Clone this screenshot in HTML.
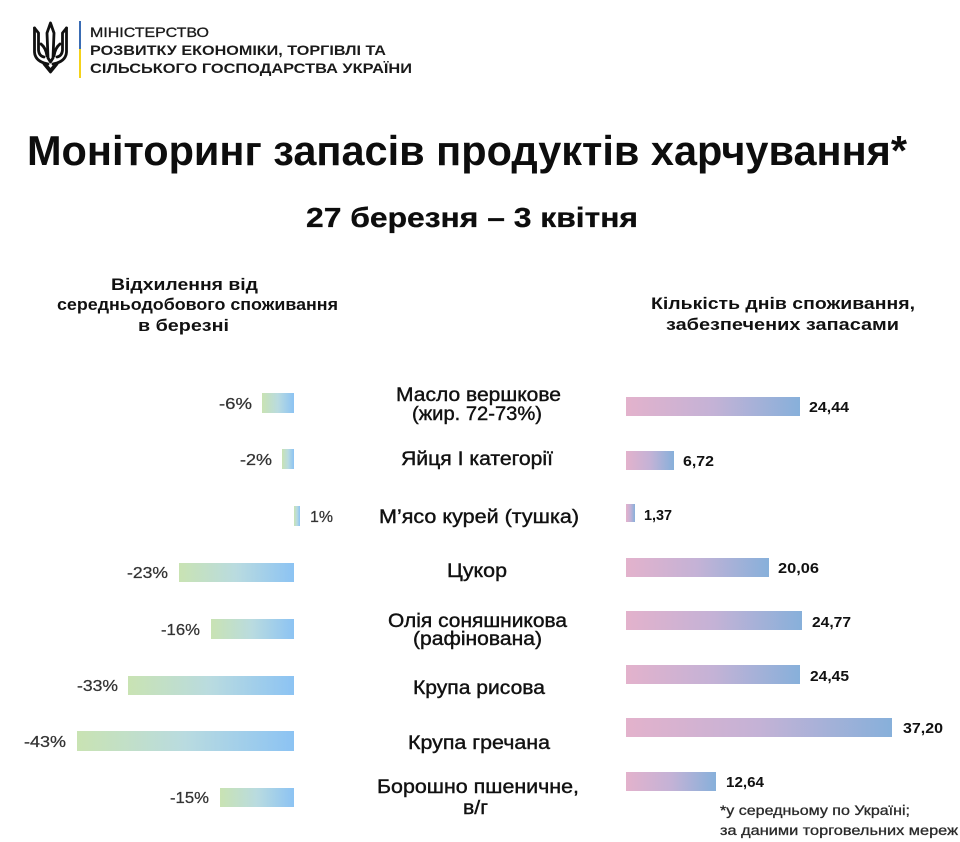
<!DOCTYPE html>
<html lang="uk">
<head>
<meta charset="utf-8">
<style>
  html,body{margin:0;padding:0;background:#fff;}
  body{width:960px;height:842px;overflow:hidden;}
  svg{display:block;}
  text{font-family:"Liberation Sans","DejaVu Sans",sans-serif;}
</style>
</head>
<body>
<svg width="960" height="842" viewBox="0 0 960 842" xmlns="http://www.w3.org/2000/svg">
  <defs>
    <linearGradient id="gl" x1="0" y1="0" x2="1" y2="0">
      <stop offset="0" stop-color="#c9e3b3"/>
      <stop offset="0.5" stop-color="#b9dbe0"/>
      <stop offset="1" stop-color="#8cc3f3"/>
    </linearGradient>
    <linearGradient id="gr" x1="0" y1="0" x2="1" y2="0">
      <stop offset="0" stop-color="#e3b2cc"/>
      <stop offset="0.5" stop-color="#c4b2d6"/>
      <stop offset="1" stop-color="#87b0da"/>
    </linearGradient>
  </defs>
  <rect width="960" height="842" fill="#fff"/>

  <!-- Logo: trident -->
  <g fill="none" stroke="#111" stroke-width="2.8" stroke-linejoin="round" stroke-linecap="round">
    <path d="M50.5 23 L54 33 L53 58 L50.5 62 L48 58 L47 33 Z"/>
    <path d="M34.5 28 L34.5 52 Q35 60 44 63 L48 64"/>
    <path d="M34.5 28 L38.5 33 L38.5 50 Q39 56 44 57"/>
    <path d="M66.5 28 L66.5 52 Q66 60 57 63 L53 64"/>
    <path d="M66.5 28 L62.5 33 L62.5 50 Q62 56 57 57"/>
    <path d="M41 44 Q46 48 47 56"/>
    <path d="M60 44 Q55 48 54 56"/>
    <path d="M44 64 L50.5 72 L57 64"/>
    <path d="M47 66 L50.5 70 L54 66"/>
  </g>
  <rect x="79" y="21" width="2" height="28" fill="#3a6cb4"/>
  <rect x="79" y="49" width="2" height="29" fill="#f4d21a"/>

  <text x="90" y="37" font-size="14" fill="#1a1a1a" stroke="#1a1a1a" stroke-width="0.3" textLength="119" lengthAdjust="spacingAndGlyphs">МІНІСТЕРСТВО</text>
  <text x="90" y="55" font-size="14" font-weight="bold" fill="#1a1a1a" textLength="296" lengthAdjust="spacingAndGlyphs">РОЗВИТКУ ЕКОНОМІКИ, ТОРГІВЛІ ТА</text>
  <text x="90" y="73" font-size="14" font-weight="bold" fill="#1a1a1a" textLength="322" lengthAdjust="spacingAndGlyphs">СІЛЬСЬКОГО ГОСПОДАРСТВА УКРАЇНИ</text>

  <text x="27" y="165" font-size="42" font-weight="bold" fill="#0d0d0d" textLength="880" lengthAdjust="spacingAndGlyphs">Моніторинг запасів продуктів харчування*</text>
  <text x="306" y="227" font-size="28" font-weight="bold" fill="#0d0d0d" stroke="#0d0d0d" stroke-width="0.3" textLength="332" lengthAdjust="spacingAndGlyphs">27 березня – 3 квітня</text>

  <g font-size="17" font-weight="bold" fill="#111">
    <text x="111" y="290" textLength="147" lengthAdjust="spacingAndGlyphs">Відхилення від</text>
    <text x="57" y="310" textLength="281" lengthAdjust="spacingAndGlyphs">середньодобового споживання</text>
    <text x="138" y="331" textLength="91" lengthAdjust="spacingAndGlyphs">в березні</text>
  </g>
  <g font-size="17" font-weight="bold" fill="#111">
    <text x="651" y="309" textLength="264" lengthAdjust="spacingAndGlyphs">Кількість днів споживання,</text>
    <text x="666" y="330" textLength="233" lengthAdjust="spacingAndGlyphs">забезпечених запасами</text>
  </g>

  <rect x="262" y="393" width="32" height="20" fill="url(#gl)"/>
  <rect x="282" y="449" width="12" height="20" fill="url(#gl)"/>
  <rect x="294" y="506" width="6" height="20" fill="url(#gl)"/>
  <rect x="179" y="563" width="115" height="19" fill="url(#gl)"/>
  <rect x="211" y="619" width="83" height="20" fill="url(#gl)"/>
  <rect x="128" y="676" width="166" height="19" fill="url(#gl)"/>
  <rect x="77" y="731" width="217" height="20" fill="url(#gl)"/>
  <rect x="220" y="788" width="74" height="19" fill="url(#gl)"/>

  <g font-size="16" fill="#333" stroke="#333" stroke-width="0.25">
    <text x="219" y="409" textLength="33" lengthAdjust="spacingAndGlyphs">-6%</text>
    <text x="240" y="465" textLength="32" lengthAdjust="spacingAndGlyphs">-2%</text>
    <text x="310" y="522" textLength="23" lengthAdjust="spacingAndGlyphs">1%</text>
    <text x="127" y="578" textLength="41" lengthAdjust="spacingAndGlyphs">-23%</text>
    <text x="161" y="635" textLength="39" lengthAdjust="spacingAndGlyphs">-16%</text>
    <text x="77" y="691" textLength="41" lengthAdjust="spacingAndGlyphs">-33%</text>
    <text x="24" y="747" textLength="42" lengthAdjust="spacingAndGlyphs">-43%</text>
    <text x="170" y="803" textLength="39" lengthAdjust="spacingAndGlyphs">-15%</text>
  </g>

  <g font-size="19" fill="#111" stroke="#111" stroke-width="0.4">
    <text x="396" y="401" textLength="165" lengthAdjust="spacingAndGlyphs">Масло вершкове</text>
    <text x="412" y="420" textLength="130" lengthAdjust="spacingAndGlyphs">(жир. 72-73%)</text>
    <text x="401" y="465" textLength="152" lengthAdjust="spacingAndGlyphs">Яйця I категорії</text>
    <text x="379" y="523" textLength="200" lengthAdjust="spacingAndGlyphs">М’ясо курей (тушка)</text>
    <text x="447" y="577" textLength="60" lengthAdjust="spacingAndGlyphs">Цукор</text>
    <text x="388" y="627" textLength="179" lengthAdjust="spacingAndGlyphs">Олія соняшникова</text>
    <text x="413" y="645" textLength="129" lengthAdjust="spacingAndGlyphs">(рафінована)</text>
    <text x="413" y="694" textLength="132" lengthAdjust="spacingAndGlyphs">Крупа рисова</text>
    <text x="408" y="749" textLength="142" lengthAdjust="spacingAndGlyphs">Крупа гречана</text>
    <text x="377" y="793" textLength="202" lengthAdjust="spacingAndGlyphs">Борошно пшеничне,</text>
    <text x="463" y="814" textLength="25" lengthAdjust="spacingAndGlyphs">в/г</text>
  </g>

  <rect x="626" y="397" width="174" height="19" fill="url(#gr)"/>
  <rect x="626" y="451" width="48" height="19" fill="url(#gr)"/>
  <rect x="626" y="504" width="9" height="18" fill="url(#gr)"/>
  <rect x="626" y="558" width="143" height="19" fill="url(#gr)"/>
  <rect x="626" y="611" width="176" height="19" fill="url(#gr)"/>
  <rect x="626" y="665" width="174" height="19" fill="url(#gr)"/>
  <rect x="626" y="718" width="266" height="19" fill="url(#gr)"/>
  <rect x="626" y="772" width="90" height="19" fill="url(#gr)"/>

  <g font-size="15" font-weight="bold" fill="#111">
    <text x="809" y="412" textLength="40" lengthAdjust="spacingAndGlyphs">24,44</text>
    <text x="683" y="466" textLength="31" lengthAdjust="spacingAndGlyphs">6,72</text>
    <text x="644" y="520" textLength="28" lengthAdjust="spacingAndGlyphs">1,37</text>
    <text x="778" y="573" textLength="41" lengthAdjust="spacingAndGlyphs">20,06</text>
    <text x="812" y="627" textLength="39" lengthAdjust="spacingAndGlyphs">24,77</text>
    <text x="810" y="681" textLength="39" lengthAdjust="spacingAndGlyphs">24,45</text>
    <text x="903" y="733" textLength="40" lengthAdjust="spacingAndGlyphs">37,20</text>
    <text x="726" y="787" textLength="38" lengthAdjust="spacingAndGlyphs">12,64</text>
  </g>

  <g font-size="14" fill="#2a2a2a" stroke="#2a2a2a" stroke-width="0.3">
    <text x="720" y="815" textLength="190" lengthAdjust="spacingAndGlyphs">*у середньому по Україні;</text>
    <text x="720" y="835" textLength="238" lengthAdjust="spacingAndGlyphs">за даними торговельних мереж</text>
  </g>
</svg>
</body>
</html>
